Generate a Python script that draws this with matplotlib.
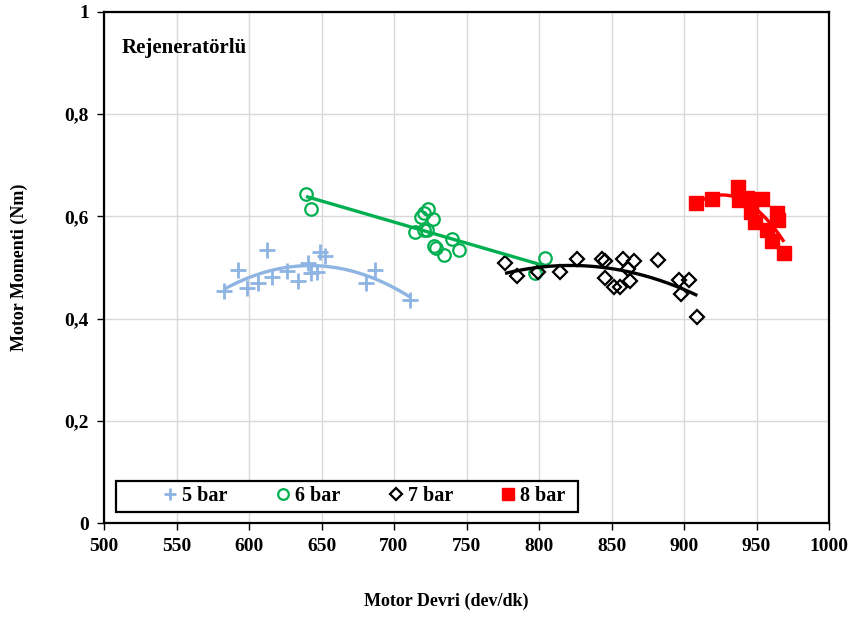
import numpy as np
import matplotlib
matplotlib.use("Agg")
import matplotlib.pyplot as plt
from matplotlib.ticker import FuncFormatter
from matplotlib.patches import Rectangle

plt.rcParams['font.family'] = ['Liberation Serif', 'DejaVu Serif']
plt.rcParams['font.weight'] = 'bold'

# Engine speed (dev/dk) and torque (Nm) per inlet pressure
rpm_5 = [582.8, 592.6, 598.8, 606.0, 612.2, 615.7, 626.4, 634.0, 640.9, 642.5,
         646.7, 649.0, 652.4, 680.7, 686.9, 711.0]
tq_5 = [0.454, 0.495, 0.460, 0.469, 0.535, 0.482, 0.493, 0.474, 0.508, 0.489,
        0.492, 0.530, 0.523, 0.469, 0.496, 0.436]

rpm_6 = [639.3, 642.6, 714.5, 718.3, 720.7, 723.4, 726.6, 720.7, 722.8, 727.6,
         729.3, 734.5, 739.8, 744.8, 804.1, 797.2]
tq_6 = [0.644, 0.614, 0.569, 0.599, 0.607, 0.614, 0.594, 0.573, 0.574, 0.542,
        0.538, 0.524, 0.555, 0.534, 0.518, 0.489]

rpm_7 = [776.6, 785.0, 799.5, 814.5, 826.4, 843.4, 845.5, 845.5, 851.4, 855.9,
         857.7, 861.6, 865.2, 863.1, 882.3, 896.8, 903.4, 897.9, 909.2]
tq_7 = [0.508, 0.483, 0.492, 0.492, 0.516, 0.517, 0.513, 0.480, 0.462, 0.462,
        0.516, 0.497, 0.512, 0.474, 0.515, 0.476, 0.475, 0.449, 0.403]

rpm_8 = [908.3, 919.1, 937.2, 937.9, 943.4, 946.2, 949.0, 953.8, 957.0, 963.9,
         965.0, 960.5, 969.0]
tq_8 = [0.626, 0.634, 0.658, 0.632, 0.636, 0.609, 0.590, 0.635, 0.573, 0.606,
        0.593, 0.551, 0.528]

series = [
    ("5 bar", rpm_5, tq_5, dict(marker='+', color='#8db4e2', ms=11, mew=2.0,
                                linestyle='none'), '#8db4e2', 2),
    ("6 bar", rpm_6, tq_6, dict(marker='o', mfc='none', mec='#00b050', ms=9,
                                mew=1.6, linestyle='none'), '#00b050', 1),
    ("7 bar", rpm_7, tq_7, dict(marker='D', mfc='none', mec='black', ms=7.5,
                                mew=1.6, linestyle='none'), 'black', 2),
    ("8 bar", rpm_8, tq_8, dict(marker='s', color='#ff0000', ms=9.5,
                                linestyle='none'), '#ff0000', 2),
]

fig = plt.figure(figsize=(8.52, 6.17), dpi=100)
ax = fig.add_axes([104 / 852, 94 / 617, 725 / 852, 511 / 617])

handles = []
for label, x, y, style, lc, order in series:
    x = np.asarray(x)
    y = np.asarray(y)
    h, = ax.plot(x, y, label=label, zorder=3, **style)
    handles.append(h)
    coef = np.polyfit(x, y, order)
    xs = np.linspace(x.min(), x.max(), 200)
    ax.plot(xs, np.polyval(coef, xs), color=lc, lw=2.4, zorder=4,
            solid_capstyle='butt')

ax.set_xlim(500, 1000)
ax.set_ylim(0, 1)
ax.set_xticks(np.arange(500, 1001, 50))
ax.set_yticks(np.arange(0, 1.01, 0.2))
ax.yaxis.set_major_formatter(FuncFormatter(
    lambda v, p: '0' if abs(v) < 1e-9 else ('1' if abs(v - 1) < 1e-9 else f"{v:.1f}".replace('.', ','))))
ax.grid(True, color='#d9d9d9', lw=1.0, zorder=0)
ax.set_axisbelow(True)
for s in ax.spines.values():
    s.set_color('black')
    s.set_linewidth(1.6)
ax.tick_params(axis='both', direction='out', length=5, width=1, labelsize=14,
               pad=6)
for lab in ax.get_xticklabels() + ax.get_yticklabels():
    lab.set_fontweight('bold')

ax.set_xlabel('Motor Devri (dev/dk)', fontsize=13, fontweight='bold')
ax.xaxis.set_label_coords(342 / 725, -70 / 511)
ax.set_ylabel('Motor Momenti (Nm)', fontsize=13, fontweight='bold')
ax.yaxis.set_label_coords(-76 / 725, 0.5)

ax.text(18 / 725, 0.93, 'Rejeneratörlü', transform=ax.transAxes, fontsize=15,
        fontweight='bold', ha='left', va='center')

# legend box and entries
ax.add_patch(Rectangle((12 / 725, 11 / 511), 462 / 725, 31 / 511,
                       transform=ax.transAxes, fill=True, facecolor='white',
                       edgecolor='black', lw=1.6, zorder=5))
leg = ax.legend(handles=handles, ncol=4, loc='center left',
                bbox_to_anchor=(58 / 725, 27 / 511),
                frameon=False, borderpad=0, borderaxespad=0,
                prop={'family': 'Liberation Serif', 'weight': 'bold',
                      'size': 14.5},
                handlelength=0.8, handletextpad=0.2,
                columnspacing=2.35, markerscale=0.85)
leg.set_zorder(6)

fig.savefig('out.png', dpi=100)
